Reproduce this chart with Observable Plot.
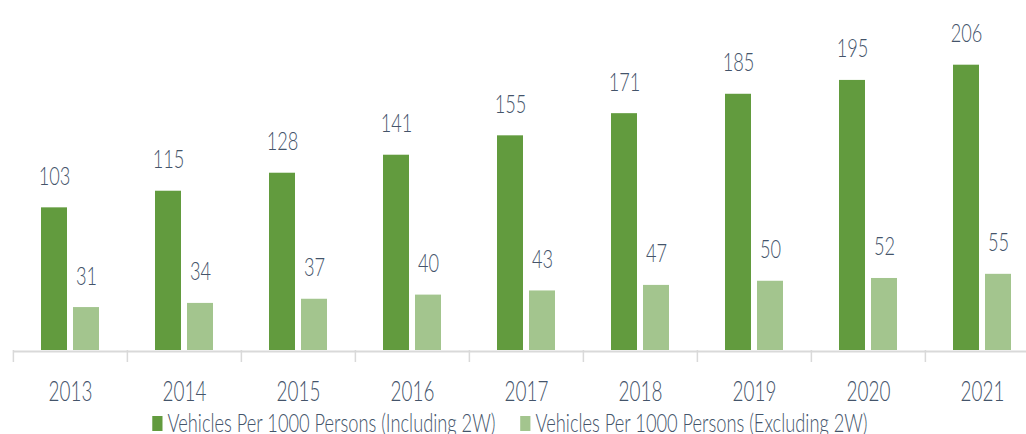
<!DOCTYPE html>
<html>
<head>
<meta charset="utf-8">
<script src="https://cdn.jsdelivr.net/npm/d3@7"></script>
<script src="https://cdn.jsdelivr.net/npm/@observablehq/plot@0.6"></script>
<style>
  html, body { margin: 0; padding: 0; background: #fff; overflow: hidden; width: 1026px; height: 434px; }
  #chart { width: 1026px; height: 409px; overflow: visible; }
  #chart svg { display: block; max-width: none !important; height: 409px !important; width: 1040px !important; }
  #legend { width: 1026px; height: 25px; display: flex; justify-content: center; overflow: visible; }
  #legend .inner { display: flex; align-items: center; transform: scaleX(0.73); transform-origin: 50% 50%;
    font-family: "Lato Light", Lato, "Open Sans", sans-serif; font-weight: 300; font-size: 25px; line-height: 26px; color: #44546A; white-space: nowrap; margin-left: -6px; }
  #legend .item { display: flex; align-items: center; }
  #legend .item + .item { margin-left: 34px; }
  #legend .sw { width: 14px; height: 15px; margin-right: 7px; display: inline-block; position: relative; top: 2px; }
</style>
</head>
<body>
<div id="chart"></div>
<div id="legend"><div class="inner"></div></div>
<script>
const years = ["2013", "2014", "2015", "2016", "2017", "2018", "2019", "2020", "2021"];
const includingValues = [103, 115, 128, 141, 155, 171, 185, 195, 206];
const excludingValues = [31, 34, 37, 40, 43, 47, 50, 52, 55];
const seriesKeys = ["incl", "excl"];
const seriesNames = ["Vehicles Per 1000 Persons (Including 2W)", "Vehicles Per 1000 Persons (Excluding 2W)"];
const seriesColors = ["#629B3E", "#A3C58E"];

const rows = [];
years.forEach((y, i) => {
  rows.push({year: y, series: "incl", value: includingValues[i]});
  rows.push({year: y, series: "excl", value: excludingValues[i]});
});

const W = 1040, H = 409, ML = 12, MR = 0, MB = 59, MT = 3.75;
const step = (W - ML - MR) / years.length;
const textColor = "#44546A";
const font = "'Lato Light', Lato, 'Open Sans', sans-serif";

const plot = Plot.plot({
  width: W,
  height: H,
  marginLeft: ML,
  marginRight: MR,
  marginTop: MT,
  marginBottom: MB,
  style: {fontFamily: font, fontWeight: 300, color: textColor, background: "transparent", overflow: "visible", maxWidth: "none"},
  fx: {domain: years, padding: 0, axis: null, label: null},
  x: {domain: seriesKeys, paddingInner: 0.2, paddingOuter: 0.857, axis: null},
  y: {domain: [0, 250], axis: null},
  color: {domain: seriesKeys, range: seriesColors},
  marks: [
    Plot.barY(rows, {fx: "year", x: "series", y: "value", fill: "series"}),
    Plot.ruleY([0], {stroke: "#D9D9D9", strokeWidth: 2, dy: 1}),
    Plot.axisFx({anchor: "bottom", tickSize: 12, text: null, label: null, stroke: "#D9D9D9", strokeWidth: 1.5, strokeOpacity: 1, dx: -step / 2}),
    Plot.axisFx({anchor: "bottom", tickSize: 0, tickPadding: 31, fontSize: 27, fill: textColor, label: null}),
    Plot.text(rows, {fx: "year", x: "series", y: "value", text: d => String(d.value), dy: -23, lineAnchor: "bottom", fontSize: 26, fill: textColor})
  ]
});

document.getElementById("chart").appendChild(plot);

// horizontally condense all text, like the reference's narrow glyphs
d3.select(plot).selectAll("text").each(function() {
  const t = d3.select(this);
  const tr = t.attr("transform");
  if (tr) {
    t.attr("transform", tr + " scale(0.7,1)");
  } else {
    const x = +t.attr("x") || 0;
    t.attr("x", null).attr("transform", `translate(${x},0) scale(0.7,1)`);
  }
});

const inner = d3.select("#legend .inner");
seriesNames.forEach((name, i) => {
  const item = inner.append("div").attr("class", "item");
  item.append("span").attr("class", "sw").style("background", seriesColors[i]);
  item.append("span").text(name);
});
</script>
</body>
</html>
